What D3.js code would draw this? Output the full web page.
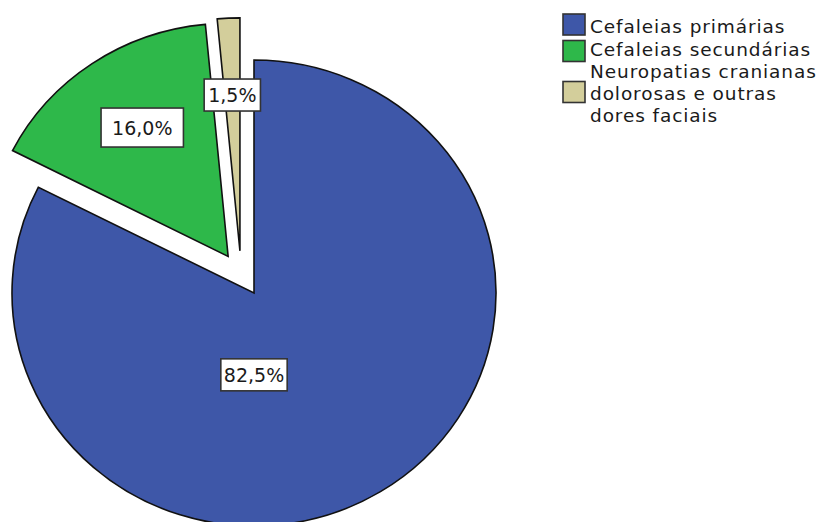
<!DOCTYPE html>
<html>
<head>
<meta charset="utf-8">
<script src="https://cdn.jsdelivr.net/npm/d3@7"></script>
<style>
  html, body { margin: 0; padding: 0; background: #ffffff; }
  svg { display: block; }
  text { font-family: "DejaVu Sans", Verdana, sans-serif; }
</style>
</head>
<body>
<svg id="chart" width="820" height="522"></svg>
<script>
// Diagnoses (share of patients, %)
const categories = [
  "Cefaleias primárias",
  "Cefaleias secundárias",
  "Neuropatias cranianas dolorosas e outras dores faciais"
];
const values = [82.5, 16.0, 1.5];
const valueLabels = ["82,5%", "16,0%", "1,5%"];
const legendLines = [
  ["Cefaleias primárias"],
  ["Cefaleias secundárias"],
  ["Neuropatias cranianas", "dolorosas e outras", "dores faciais"]
];
const colors = ["#3e57a8", "#2eb84a", "#d3ce9b"];

// Layout
const cx = 254, cy = 293;
const R = 242;            // horizontal radius
const sy = 233 / 242;     // vertical squash of the pie
const explodeDist = [0, 46, 46];
const explodeAngle = [null, null, -17.8]; // degrees, null = slice mid-angle
const labelRadius = [85, 159, 162];
const labelAngle = [180, -32.7, null];    // degrees, null = slice mid-angle
const padX = [3, 11, 4], padY = [5, 8.5, 5];

const svg = d3.select("#chart");
const rad = d => d * Math.PI / 180;

const pie = d3.pie().sort(null).startAngle(0).endAngle(2 * Math.PI).value(d => d);
const arcs = pie(values);
const arc = d3.arc().innerRadius(0).outerRadius(R);

const pieG = svg.append("g")
  .attr("transform", `translate(${cx},${cy}) scale(1,${sy})`);

function offsetOf(d, i) {
  const a = explodeAngle[i] == null ? (d.startAngle + d.endAngle) / 2 : rad(explodeAngle[i]);
  return [explodeDist[i] * Math.sin(a), -explodeDist[i] * Math.cos(a)];
}

pieG.selectAll("path.slice")
  .data(arcs)
  .join("path")
  .attr("class", "slice")
  .attr("d", arc)
  .attr("transform", (d, i) => { const o = offsetOf(d, i); return `translate(${o[0]},${o[1]})`; })
  .attr("fill", (d, i) => colors[i])
  .attr("stroke", "#111")
  .attr("stroke-width", 1.6)
  .attr("stroke-linejoin", "miter")
  .attr("vector-effect", "non-scaling-stroke");

// Value labels in boxes
const labG = svg.append("g");
arcs.forEach((d, i) => {
  const o = offsetOf(d, i);
  const a = labelAngle[i] == null ? (d.startAngle + d.endAngle) / 2 : rad(labelAngle[i]);
  const x = cx + o[0] + labelRadius[i] * Math.sin(a);
  const y = cy + (o[1] - labelRadius[i] * Math.cos(a)) * sy;
  const g = labG.append("g").attr("transform", `translate(${x},${y})`);
  const rect = g.append("rect");
  const t = g.append("text")
    .attr("text-anchor", "middle")
    .attr("dominant-baseline", "central")
    .attr("font-size", 19)
    .attr("fill", "#1a1a1a")
    .text(valueLabels[i]);
  const bb = t.node().getBBox();
  rect.attr("x", bb.x - padX[i])
    .attr("y", bb.y - padY[i])
    .attr("width", bb.width + 2 * padX[i])
    .attr("height", bb.height + 2 * padY[i])
    .attr("fill", "#ffffff")
    .attr("stroke", "#333")
    .attr("stroke-width", 1.6);
});

// Legend
const legX = 563, legTextX = 590;
const swatchY = [24.5, 51, 92];        // centre of each swatch
const textY = [[26], [49], [71.5, 93.5, 115.5]]; // centre line of each text row
const leg = svg.append("g");
legendLines.forEach((lines, i) => {
  leg.append("rect")
    .attr("x", legX).attr("y", swatchY[i] - 10.5)
    .attr("width", 22).attr("height", 21)
    .attr("fill", colors[i])
    .attr("stroke", "#333")
    .attr("stroke-width", 1.6);
  lines.forEach((ln, j) => {
    leg.append("text")
      .attr("x", legTextX)
      .attr("y", textY[i][j])
      .attr("dominant-baseline", "central")
      .attr("font-size", 18.5)
      .attr("letter-spacing", 0.9)
      .attr("fill", "#1a1a1a")
      .text(ln);
  });
});
</script>
</body>
</html>
